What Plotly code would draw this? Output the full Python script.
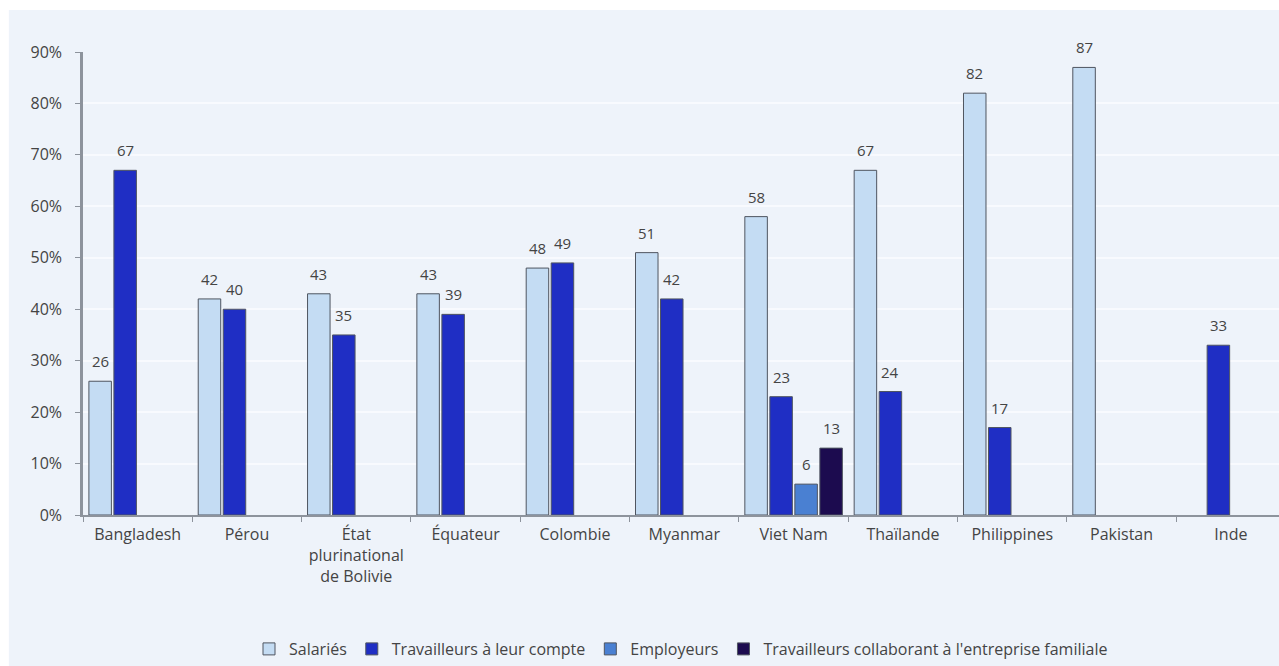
import plotly.graph_objects as go

categories = ["Bangladesh", "Pérou", "État<br>plurinational<br>de Bolivie", "Équateur", "Colombie",
              "Myanmar", "Viet Nam", "Thaïlande", "Philippines", "Pakistan", "Inde"]

salaries = [26, 42, 43, 43, 48, 51, 58, 67, 82, 87, None]
travailleurs_compte = [67, 40, 35, 39, 49, 42, 23, 24, 17, None, 33]
employeurs = [None, None, None, None, None, None, 6, None, None, None, None]
collaborant = [None, None, None, None, None, None, 13, None, None, None, None]

series_names = ["Salariés", "Travailleurs à leur compte", "Employeurs",
                "Travailleurs collaborant à l'entreprise familiale"]
series_values = [salaries, travailleurs_compte, employeurs, collaborant]
colors = ["#c4dcf3", "#1f2ec4", "#4a80d2", "#1c0b4f"]
y_ticks = [0, 10, 20, 30, 40, 50, 60, 70, 80, 90]

FONT = "Open Sans"
W, H = 1279, 666
ML, MR, MT, MB = 83, 0, 52, 151
X_RANGE = [-0.5, 10.44]
BARGAP = 0.085

fig = go.Figure()
for name, vals, col in zip(series_names, series_values, colors):
    fig.add_trace(go.Bar(
        x=categories, y=vals, name=name,
        marker=dict(color=col, line=dict(color="#4f5560", width=1)),
        cliponaxis=False,
    ))

# value labels, placed through the axes with a pixel shift for the group slot
cat_px = (W - ML - MR) / (X_RANGE[1] - X_RANGE[0])
slot_px = cat_px * (1 - BARGAP) / len(series_values)
annotations = []
for i, vals in enumerate(series_values):
    for cat, v in zip(categories, vals):
        if v is None:
            continue
        annotations.append(dict(
            x=cat, y=v, xref="x", yref="y", text=str(v), showarrow=False,
            xshift=(i - (len(series_values) - 1) / 2) * slot_px, yshift=8,
            yanchor="bottom", font=dict(family=FONT, size=15, color="#444444"),
        ))

fig.update_layout(
    barmode="group",
    bargap=BARGAP,
    bargroupgap=0.1,
    width=W, height=H,
    margin=dict(l=ML, r=MR, t=MT, b=MB),
    paper_bgcolor="white",
    plot_bgcolor="rgba(0,0,0,0)",
    font=dict(family=FONT, size=16, color="#444444"),
    showlegend=True,
    legend=dict(orientation="h", x=0.5, xanchor="center", y=-0.29, yanchor="middle",
                font=dict(family=FONT, size=16, color="#444444"),
                bgcolor="rgba(0,0,0,0)", itemwidth=30, traceorder="normal"),
    annotations=annotations,
    shapes=[dict(type="rect", xref="paper", yref="paper", x0=-0.062, x1=1.02,
                 y0=-0.5, y1=1.0907, fillcolor="#eef3fa", line=dict(width=0), layer="below")],
)
fig.update_xaxes(
    range=X_RANGE,
    showline=True, linecolor="#8d939c", linewidth=2,
    ticks="outside", tickson="boundaries", ticklen=5, tickcolor="#8d939c",
    ticklabelstandoff=4,
    showgrid=False, tickfont=dict(family=FONT, size=16, color="#444444"),
)
fig.update_yaxes(
    range=[0, 90], tickvals=y_ticks, ticktext=[f"{t}%" for t in y_ticks],
    showline=True, linecolor="#8d939c", linewidth=2.5,
    ticks="outside", ticklen=5, tickcolor="#8d939c", ticklabelstandoff=10,
    showgrid=True, gridcolor="#f8fafe", gridwidth=1.5, zeroline=False,
    tickfont=dict(family=FONT, size=16, color="#444444"),
)

fig.write_html("out.html")
